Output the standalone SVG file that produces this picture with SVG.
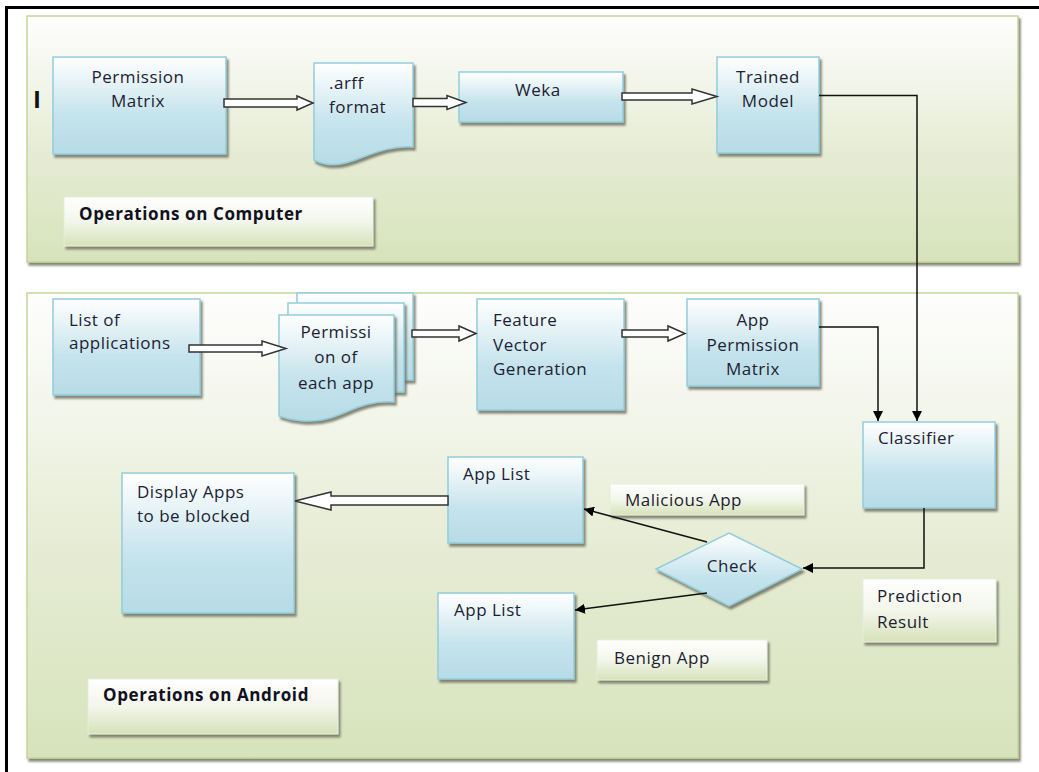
<svg xmlns="http://www.w3.org/2000/svg" width="1039" height="772" viewBox="0 0 1039 772">
<defs>
<linearGradient id="gPanel" x1="0" y1="0" x2="0" y2="1">
<stop offset="0" stop-color="#fefefe"/><stop offset="0.55" stop-color="#e6ecd4"/><stop offset="1" stop-color="#d7e3bc"/>
</linearGradient>
<linearGradient id="gNode" x1="0" y1="0" x2="0" y2="1">
<stop offset="0" stop-color="#ffffff"/><stop offset="0.6" stop-color="#c5e3ec"/><stop offset="1" stop-color="#b6dce6"/>
</linearGradient>
<linearGradient id="gLabel" x1="0" y1="0" x2="0" y2="1">
<stop offset="0" stop-color="#ffffff"/><stop offset="0.5" stop-color="#f3f6eb"/><stop offset="1" stop-color="#d6e2b9"/>
</linearGradient>
<filter id="sh" x="-10%" y="-10%" width="130%" height="130%">
<feDropShadow dx="2" dy="3" stdDeviation="0.8" flood-color="#6b6b5a" flood-opacity="0.8"/>
</filter>
<marker id="ah" viewBox="0 0 10 10" refX="10" refY="5" markerWidth="10" markerHeight="10" markerUnits="userSpaceOnUse" orient="auto">
<path d="M0,0 L10,5 L0,10 Z" fill="#000"/>
</marker>
<style>
.panel{fill:url(#gPanel);stroke:#c3d69b;stroke-width:1.5;filter:url(#sh)}
.node{fill:url(#gNode);stroke:#93cddd;stroke-width:1.5;filter:url(#sh)}
.lbl{fill:url(#gLabel);stroke:#e8eedc;stroke-width:1;filter:url(#sh)}
.t{font-family:"Open Sans","DejaVu Sans",sans-serif;font-size:17px;letter-spacing:0.5px;fill:#1d1d33}
.b{font-family:"Open Sans","DejaVu Sans",sans-serif;font-size:17px;letter-spacing:0.6px;font-weight:bold;fill:#111122}
.c{text-anchor:middle}
.blk{fill:#fff;stroke:#333;stroke-width:1.5;stroke-linejoin:miter}
.ln{fill:none;stroke:#111;stroke-width:1.5;marker-end:url(#ah)}
</style>
</defs>
<rect width="1039" height="772" fill="#fff"/>
<!-- frame -->
<path d="M6.5,772 V7.5 H1039" fill="none" stroke="#000" stroke-width="3"/>

<g id="panel-computer"><rect class="panel" x="27" y="16" width="991" height="246"/></g>
<g id="panel-android"><rect class="panel" x="27" y="293" width="991" height="465"/></g>

<text x="33" y="108" style="font-family:'Open Sans',sans-serif;font-size:24px;font-weight:bold;fill:#111">I</text>

<g id="permission-matrix">
<rect class="node" x="53" y="57" width="173" height="97"/>
<text class="t c" x="138" y="83">Permission</text>
<text class="t c" x="138" y="107">Matrix</text>
</g>
<g id="arff-format">
<path class="node" d="M314,63 H413 V147 C385,145 365,158 345,163 C330,167 320,163 314,160 Z"/>
<text class="t" x="329" y="89">.arff</text>
<text class="t" x="329" y="113">format</text>
</g>
<g id="weka">
<rect class="node" x="459" y="72" width="164" height="50"/>
<text class="t" x="515" y="96">Weka</text>
</g>
<g id="trained-model">
<rect class="node" x="717" y="57" width="102" height="96"/>
<text class="t c" x="768" y="83">Trained</text>
<text class="t c" x="768" y="107">Model</text>
</g>
<g id="label-computer">
<rect class="lbl" x="64" y="197" width="309" height="49"/>
<text class="b" x="79" y="220">Operations  on Computer</text>
</g>

<g id="list-of-applications">
<rect class="node" x="53" y="299" width="147" height="96"/>
<text class="t" x="69" y="326">List of</text>
<text class="t" x="69" y="349">applications</text>
</g>
<g id="permission-each-app">
<rect class="node" x="297" y="293" width="116" height="87"/>
<rect class="node" x="288" y="303" width="116" height="89"/>
<path class="node" d="M279,315 H394 V402 C365,400 350,412 330,418 C310,424 290,420 279,416 Z"/>
<text class="t c" x="336" y="338">Permissi</text>
<text class="t c" x="336" y="363">on of</text>
<text class="t c" x="336" y="389">each app</text>
</g>
<g id="feature-vector">
<rect class="node" x="477" y="299" width="147" height="111"/>
<text class="t" x="493" y="326">Feature</text>
<text class="t" x="493" y="351">Vector</text>
<text class="t" x="493" y="375">Generation</text>
</g>
<g id="app-permission-matrix">
<rect class="node" x="687" y="299" width="132" height="87"/>
<text class="t c" x="753" y="326">App</text>
<text class="t c" x="753" y="351">Permission</text>
<text class="t c" x="753" y="375">Matrix</text>
</g>
<g id="classifier">
<rect class="node" x="863" y="422" width="132" height="86"/>
<text class="t" x="878" y="444">Classifier</text>
</g>
<g id="check">
<path class="node" d="M729,533 L802,569 L729,606 L656,569 Z"/>
<text class="t c" x="732" y="572">Check</text>
</g>
<g id="app-list-malicious">
<rect class="node" x="448" y="457" width="135" height="86"/>
<text class="t" x="463" y="480">App List</text>
</g>
<g id="app-list-benign">
<rect class="node" x="438" y="593" width="136" height="86"/>
<text class="t" x="454" y="616">App List</text>
</g>
<g id="display-apps">
<rect class="node" x="122" y="473" width="172" height="140"/>
<text class="t" x="137" y="498">Display Apps</text>
<text class="t" x="137" y="522">to be  blocked</text>
</g>
<g id="label-malicious">
<rect class="lbl" x="610" y="484" width="194" height="31"/>
<text class="t" x="625" y="506">Malicious App</text>
</g>
<g id="label-benign">
<rect class="lbl" x="597" y="640" width="170" height="40"/>
<text class="t" x="614" y="664">Benign App</text>
</g>
<g id="label-prediction">
<rect class="lbl" x="863" y="579" width="133" height="63"/>
<text class="t" x="877" y="602">Prediction</text>
<text class="t" x="877" y="628">Result</text>
</g>
<g id="label-android">
<rect class="lbl" x="88" y="679" width="250" height="55"/>
<text class="b" x="103" y="701">Operations  on Android</text>
</g>

<g id="connectors">
<path class="blk" d="M224,99 H297 V96 L313,103 L297,110 V107 H224 Z"/>
<path class="blk" d="M413,98.5 H447 V95.5 L466,102.5 L447,109.5 V106.5 H413 Z"/>
<path class="blk" d="M622,93 H692 V89 L717,96.5 L692,104 V100 H622 Z"/>
<path class="blk" d="M189,345 H262 V341 L286,348.5 L262,356 V352 H189 Z"/>
<path class="blk" d="M412,330 H459 V326 L476,333.5 L459,341 V337 H412 Z"/>
<path class="blk" d="M622,330 H668 V326 L685,333.5 L668,341 V337 H622 Z"/>
<path class="blk" d="M448,496 H331 V492 L295,501 L331,510 V505 H448 Z"/>
<path class="ln" d="M819,95.5 H917 V421"/>
<path class="ln" d="M819,327 H878 V421"/>
<path class="ln" d="M924,508 V568 H803"/>
<path class="ln" d="M707,542 L584,509"/>
<path class="ln" d="M707,593 L575,610"/>
</g>
</svg>
